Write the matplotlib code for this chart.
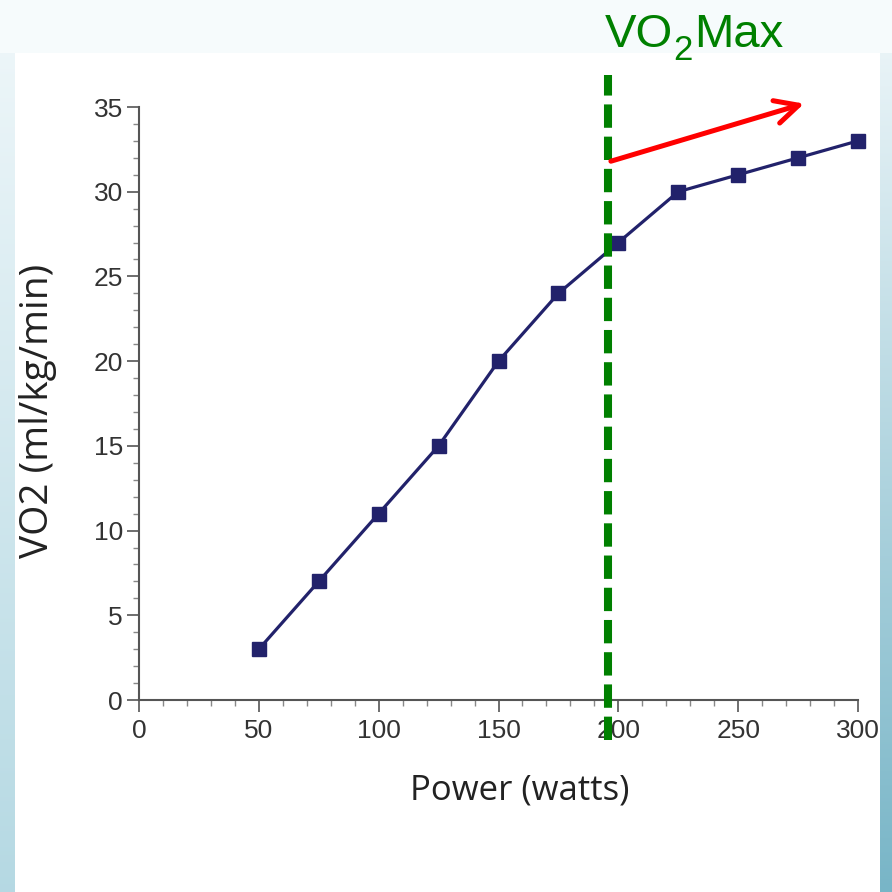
import matplotlib
matplotlib.use('Agg')
import matplotlib.pyplot as plt
import numpy as np
from matplotlib.ticker import MultipleLocator

power = [50, 75, 100, 125, 150, 175, 200, 225, 250, 275, 300]
vo2 = [3, 7, 11, 15, 20, 24, 27, 30, 31, 32, 33]
x_ticks = [0, 50, 100, 150, 200, 250, 300]
y_ticks = [0, 5, 10, 15, 20, 25, 30, 35]
vo2max_power = 195.7
arrow_start = (196.9, 31.8)
arrow_end = (277.5, 35.2)

W = H = 892
fig = plt.figure(figsize=(8.92, 8.92), dpi=100)

# slide background: light blue frame with a white panel
bg = np.ones((H, W, 3))
top = np.array([0.965, 0.985, 0.992])
bg[:53, :] = top
t = np.linspace(0, 1, H)[:, None]
left_top, left_bot = np.array([0.94, 0.97, 0.98]), np.array([0.71, 0.85, 0.89])
right_top, right_bot = np.array([0.94, 0.97, 0.98]), np.array([0.47, 0.71, 0.78])
bg[:, :15] = (left_top * (1 - t) + left_bot * t)[:, None, :]
bg[:, 880:] = (right_top * (1 - t) + right_bot * t)[:, None, :]
bg[:53, :15] = top
bg[:53, 880:] = top
bax = fig.add_axes([0, 0, 1, 1], zorder=-1)
bax.imshow(bg, aspect='auto', interpolation='nearest')
bax.axis('off')

ax = fig.add_axes([139 / W, 192 / H, 719 / W, 593 / H])
ax.set_facecolor('none')
ax.plot(power, vo2, color='#22226b', lw=2.3, marker='s', markersize=10,
        clip_on=False, zorder=3)

ax.set_xlim(0, 300)
ax.set_ylim(0, 35)
ax.set_xticks(x_ticks)
ax.set_yticks(y_ticks)
ax.xaxis.set_minor_locator(MultipleLocator(10))
ax.yaxis.set_minor_locator(MultipleLocator(1))
for s in ['top', 'right']:
    ax.spines[s].set_visible(False)
for s in ['left', 'bottom']:
    ax.spines[s].set_color('#555555')
    ax.spines[s].set_linewidth(1.5)
ax.tick_params(which='major', length=8.5, width=1.2, color='#555555',
               labelsize=19, labelcolor='#333333')
ax.tick_params(which='minor', length=4, width=1.0, color='#888888')
ax.tick_params(axis='x', which='major', pad=5)
ax.tick_params(axis='y', which='major', pad=3)
for lab in ax.get_xticklabels() + ax.get_yticklabels():
    lab.set_fontfamily('Liberation Sans')

ax.set_xlabel('Power (watts)', fontsize=25, family='Open Sans', color='#222222', va='center')
ax.xaxis.set_label_coords(0.53, -0.152)
ax.set_ylabel('VO2 (ml/kg/min)', fontsize=28, family='Open Sans', color='#222222', va='center')
ax.yaxis.set_label_coords(-0.1405, 0.487)

# VO2max marker line and arrow
ax.plot([vo2max_power, vo2max_power], [-2.36, 36.9], color='#008000', lw=5.8,
        ls=(0, (2.9, 1.1)), dash_capstyle='butt', clip_on=False, zorder=5)
ax.annotate('', xy=arrow_end, xytext=arrow_start, annotation_clip=False,
            arrowprops=dict(arrowstyle='->', color='#ff0000', lw=3.6,
                            mutation_scale=42, shrinkA=0, shrinkB=0), zorder=6)

# title text VO2Max with a lowered subscript
green = '#008000'
fig.text(605 / W, 1 - 47 / H, 'VO', color=green, fontsize=34,
         family='Liberation Sans', ha='left', va='baseline')
fig.text(673 / W, 1 - 60 / H, '2', color=green, fontsize=25,
         family='Liberation Sans', ha='left', va='baseline')
fig.text(694 / W, 1 - 47 / H, 'Max', color=green, fontsize=34,
         family='Liberation Sans', ha='left', va='baseline')

fig.savefig('out.png', dpi=100)
